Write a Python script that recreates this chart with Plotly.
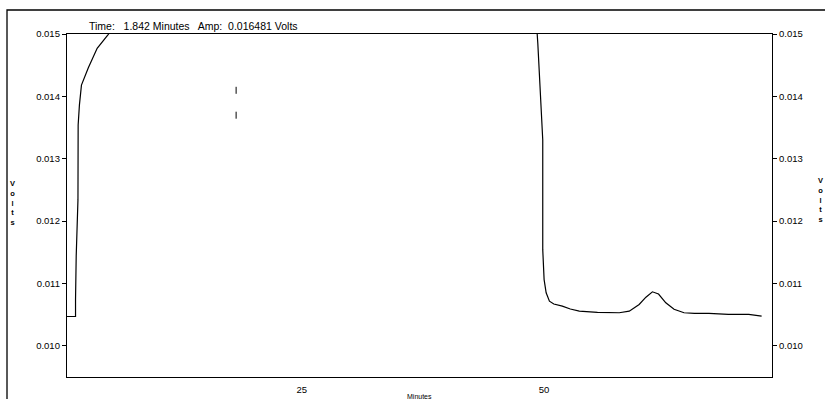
import plotly.graph_objects as go

# ---- data ----
time_min = [0.8, 1.68, 1.68, 1.75, 1.93, 1.95, 2.08, 2.29, 3.0, 3.91, 5.04, 6.0, 10.0, 20.0,
            30.0, 40.0, 48.5, 49.2, 49.35, 49.6, 49.86, 49.86, 50.0, 50.21, 50.55, 51.0,
            51.88, 52.7, 53.63, 55.5, 57.75, 58.78, 59.8, 60.5, 61.17, 61.8, 62.55, 63.4,
            64.43, 65.5, 67.0, 69.0, 71.1, 72.43]
volts = [0.01047, 0.01047, 0.010743, 0.011446, 0.01234, 0.01354, 0.01386, 0.01418, 0.01446,
         0.01477, 0.01499, 0.01520, 0.01600, 0.01640, 0.01645, 0.01640, 0.01580, 0.01520,
         0.01485, 0.01415, 0.01330, 0.011542, 0.011062, 0.010850, 0.010716, 0.010670,
         0.010636, 0.010590, 0.010556, 0.010535, 0.010530, 0.010556, 0.010663, 0.010780,
         0.010866, 0.010830, 0.010690, 0.010585, 0.010530, 0.010519, 0.010519, 0.010505,
         0.010503, 0.010476]

cursor_t = [18.24, 18.24]
cursor_v = [0.014097, 0.013698]

y_ticks = [0.010, 0.011, 0.012, 0.013, 0.014, 0.015]
y_tick_text = ["0.010", "0.011", "0.012", "0.013", "0.014", "0.015"]
x_ticks = [25, 50]
x_tick_text = ["25", "50"]

x_range = [0.8, 73.5]
y_range = [0.0095, 0.015]

header_text = "Time:   1.842 Minutes   Amp:  0.016481 Volts"
x_title = "Minutes"
y_title = "<b>V<br>o<br>l<br>t<br>s</b>"

FONT = "Liberation Sans"

fig = go.Figure()
fig.add_trace(go.Scatter(x=time_min, y=volts, mode="lines",
                         line=dict(color="black", width=1.2), showlegend=False,
                         hoverinfo="skip"))
fig.add_trace(go.Scatter(x=cursor_t, y=cursor_v, mode="markers",
                         marker=dict(symbol="line-ns", size=5,
                                     line=dict(color="black", width=1)),
                         showlegend=False, hoverinfo="skip"))
# invisible trace to carry the right-hand axis
fig.add_trace(go.Scatter(x=[time_min[0]], y=[volts[0]], yaxis="y2", mode="lines",
                         line=dict(color="rgba(0,0,0,0)"), showlegend=False,
                         hoverinfo="skip"))

axis_common = dict(showgrid=False, zeroline=False, showline=True, linecolor="black",
                   linewidth=1.3, ticks="outside", ticklen=4, tickcolor="black",
                   automargin=False,
                   tickfont=dict(family=FONT, size=9.5, color="black"))

fig.update_layout(
    width=825, height=399,
    margin=dict(l=67, r=53, t=34, b=22),
    paper_bgcolor="white", plot_bgcolor="white",
    font=dict(family=FONT, color="black"),
    xaxis=dict(range=x_range, tickvals=x_ticks, ticktext=x_tick_text, mirror=True,
               ticklabelstandoff=3, **{**axis_common, "ticklen": 0}),
    yaxis=dict(range=y_range, tickvals=y_ticks, ticktext=y_tick_text, mirror=False,
               **axis_common),
    yaxis2=dict(range=y_range, tickvals=y_ticks, ticktext=y_tick_text, overlaying="y",
                side="right", **axis_common),
    annotations=[
        dict(text=header_text, xref="paper", yref="paper", x=0.028, y=1.022,
             xanchor="left", yanchor="middle", showarrow=False,
             font=dict(family=FONT, size=10.5, color="black")),
        dict(text=x_title, xref="paper", yref="paper", x=0.5, y=-0.058,
             xanchor="center", yanchor="middle", showarrow=False,
             font=dict(family=FONT, size=7, color="black")),
        dict(text=y_title, xref="paper", yref="paper", x=-0.0766, y=0.507,
             xanchor="center", yanchor="middle", showarrow=False,
             font=dict(family=FONT, size=7.5, color="black")),
        dict(text=y_title, xref="paper", yref="paper", x=1.0695, y=0.516,
             xanchor="center", yanchor="middle", showarrow=False,
             font=dict(family=FONT, size=7.5, color="black")),
    ],
    shapes=[
        dict(type="rect", xref="paper", yref="paper", x0=-0.0851, x1=1.09,
             y0=-0.09, y1=1.07, line=dict(color="black", width=1.3),
             fillcolor="rgba(0,0,0,0)", layer="below"),
    ],
)

fig.write_html("out.html")
